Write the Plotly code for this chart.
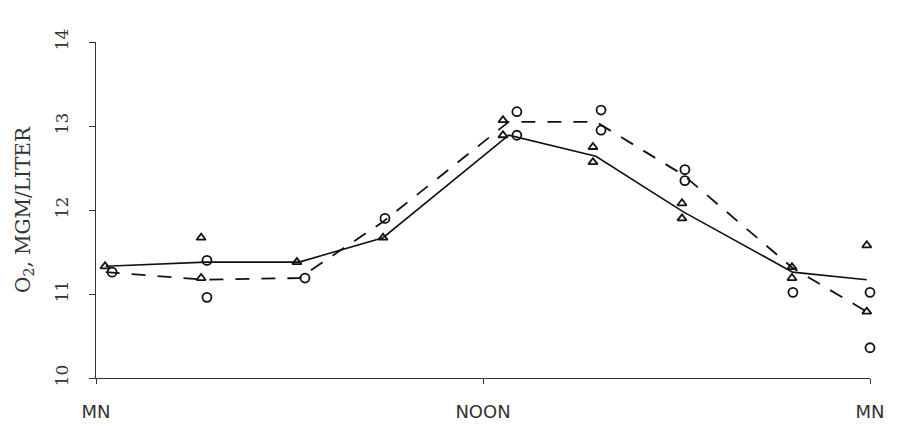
import plotly.graph_objects as go

# Hours after midnight for line vertices
line_hours = [0.3, 3.4, 6.3, 8.9, 12.8, 15.5, 18.2, 21.6, 23.9]
solid_values = [11.33, 11.38, 11.38, 11.67, 12.89, 12.64, 11.98, 11.26, 11.17]
dashed_values = [11.26, 11.17, 11.19, 11.86, 13.05, 13.05, 12.42, 11.31, 10.79]

# Individual observations
tri_hours = [0.28, 3.26, 3.26, 6.23, 8.9, 12.62, 12.62, 15.41, 15.41, 18.17, 18.17, 21.58, 21.58, 23.9, 23.9]
tri_values = [11.33, 11.67, 11.19, 11.38, 11.67, 13.07, 12.89, 12.75, 12.57, 12.08, 11.90, 11.32, 11.19, 11.58, 10.79]
circ_hours = [0.5, 3.44, 3.44, 6.48, 8.96, 13.05, 13.05, 15.66, 15.66, 18.26, 18.26, 21.61, 24.0, 24.0]
circ_values = [11.26, 11.40, 10.96, 11.19, 11.90, 13.17, 12.89, 13.19, 12.95, 12.48, 12.35, 11.02, 11.02, 10.36]

x_tick_vals = [0, 12, 24]
x_tick_text = ["MN", "NOON", "MN"]
y_tick_vals = [10, 11, 12, 13, 14]

fig = go.Figure()
fig.add_trace(go.Scatter(x=line_hours, y=solid_values, mode="lines",
                         line=dict(color="#111", width=1.6), showlegend=False))
fig.add_trace(go.Scatter(x=line_hours, y=dashed_values, mode="lines",
                         line=dict(color="#111", width=1.8, dash="14px,12px"), showlegend=False))
fig.add_trace(go.Scatter(x=tri_hours, y=tri_values, mode="markers",
                         marker=dict(symbol="triangle-up-open", size=8, color="#111", line=dict(width=1.8)),
                         showlegend=False, cliponaxis=False))
fig.add_trace(go.Scatter(x=circ_hours, y=circ_values, mode="markers",
                         marker=dict(symbol="circle-open", size=9, color="#111", line=dict(width=1.8)),
                         showlegend=False, cliponaxis=False))

fig.update_layout(
    width=898, height=424,
    margin=dict(l=96, r=28, t=42, b=46),
    paper_bgcolor="white", plot_bgcolor="white",
    font=dict(family="DejaVu Sans", color="#222"),
    xaxis=dict(range=[0, 24], tickvals=x_tick_vals, ticktext=x_tick_text, automargin=False,
               showgrid=False, zeroline=False, showline=True, linecolor="#333", linewidth=1.2,
               ticks="outside", ticklen=5, tickcolor="#333", ticklabelstandoff=12,
               tickfont=dict(size=18, family="DejaVu Sans", color="#333")),
    yaxis=dict(range=[10, 14], tickvals=y_tick_vals, tickangle=-90, automargin=False,
               showgrid=False, zeroline=False, showline=True, linecolor="#333", linewidth=1.2,
               ticks="outside", ticklen=6, tickcolor="#333", ticklabelstandoff=14,
               tickfont=dict(size=17, family="DejaVu Serif", color="#333"),
               title=dict(text="O<sub>2</sub>, MGM/LITER", standoff=16,
                          font=dict(size=20, family="DejaVu Serif", color="#333"))),
)

fig.write_html("out.html")
